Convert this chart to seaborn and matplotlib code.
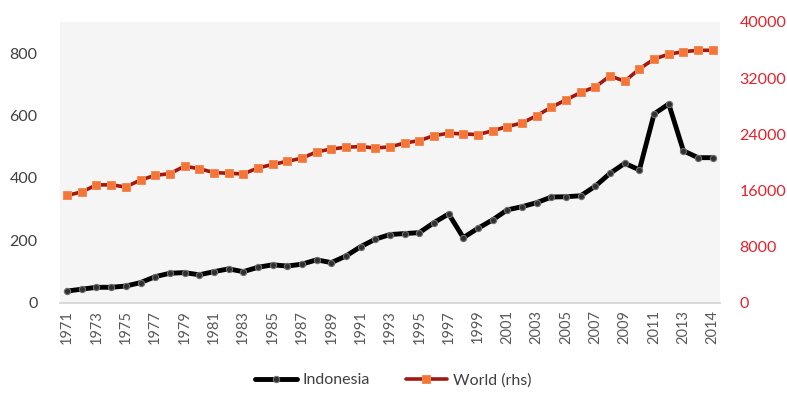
import pandas as pd
import matplotlib
matplotlib.use("Agg")
import matplotlib.pyplot as plt
import seaborn as sns

# values (45 periods, labels every 2nd period)
indonesia = [38, 44, 50, 50, 54, 65, 84, 95, 97, 90, 100, 109, 100, 114, 122,
             118, 124, 138, 129, 150, 180, 204, 219, 222, 225, 257, 285, 209,
             239, 266, 298, 308, 321, 339, 340, 343, 374, 415, 447, 426, 605,
             637, 487, 465, 465]
world = [15300, 15800, 16800, 16800, 16500, 17500, 18150, 18400, 19450, 19100,
         18550, 18450, 18350, 19200, 19700, 20150, 20600, 21500, 21900, 22150,
         22250, 22050, 22200, 22750, 23100, 23800, 24150, 24050, 23950, 24500,
         25100, 25600, 26650, 27850, 28900, 29950, 30750, 32300, 31550, 33300,
         34700, 35400, 35750, 35950, 35950]
tick_labels = ["1971", "1973", "1975", "1977", "1979", "1981", "1983", "1985",
               "1987", "1989", "1991", "1993", "1995", "1997", "1999", "2001",
               "2003", "2005", "2007", "2009", "2011", "2013", "2014"]
left_ticks = [0, 200, 400, 600, 800]
right_ticks = [0, 8000, 16000, 24000, 32000, 40000]

sns.set_theme(style="white")
plt.rcParams['font.family'] = ['Lato', 'DejaVu Sans']

df = pd.DataFrame({"period": range(len(indonesia)),
                   "Indonesia": indonesia,
                   "World (rhs)": world})

fig = plt.figure(figsize=(7.87, 3.97), dpi=100)
ax = fig.add_axes([0.076, 0.237, 0.839, 0.708])
ax2 = ax.twinx()
ax.set_facecolor("#f5f5f5")

sns.lineplot(data=df, x="period", y="Indonesia", ax=ax, color="black",
             linewidth=3.5, marker="o", markersize=4.5,
             markerfacecolor="#303030", markeredgecolor="#707070",
             markeredgewidth=0.8, label="Indonesia", legend=False)
sns.lineplot(data=df, x="period", y="World (rhs)", ax=ax2, color="#a01a14",
             linewidth=2.6, marker="s", markersize=6.3,
             markerfacecolor="#f37638", markeredgecolor="#f58a52",
             markeredgewidth=0.7, label="World (rhs)", legend=False)

ax.set_xlim(-0.5, len(indonesia) - 0.5)
ax.set_ylim(0, 900)
ax2.set_ylim(0, 40000)
ax.set_yticks(left_ticks)
ax2.set_yticks(right_ticks)
ax.set_xticks(range(0, len(indonesia), 2))
ax.set_xticklabels(tick_labels, rotation=90)
ax.set_xlabel("")
ax.set_ylabel("")
ax2.set_ylabel("")

ax.tick_params(axis="y", colors="#404040", labelsize=11.5, length=0, pad=16)
ax.tick_params(axis="x", colors="#595959", labelsize=10.5, length=0, pad=5)
ax2.tick_params(axis="y", colors="#e8202a", labelsize=11.5, length=0, pad=14)

for a in (ax, ax2):
    for s in ("top", "left", "right"):
        a.spines[s].set_visible(False)
    a.spines["bottom"].set_color("#d9d9d9")
    a.spines["bottom"].set_linewidth(1.2)

h1, l1 = ax.get_legend_handles_labels()
h2, l2 = ax2.get_legend_handles_labels()
fig.legend(h1 + h2, l1 + l2, loc="lower center", bbox_to_anchor=(0.5, -0.012),
           ncol=2, frameon=False, fontsize=11.5, handlelength=2.6,
           handletextpad=0.4, columnspacing=2.2, labelcolor="#404040")

fig.savefig("out.png", dpi=100)
